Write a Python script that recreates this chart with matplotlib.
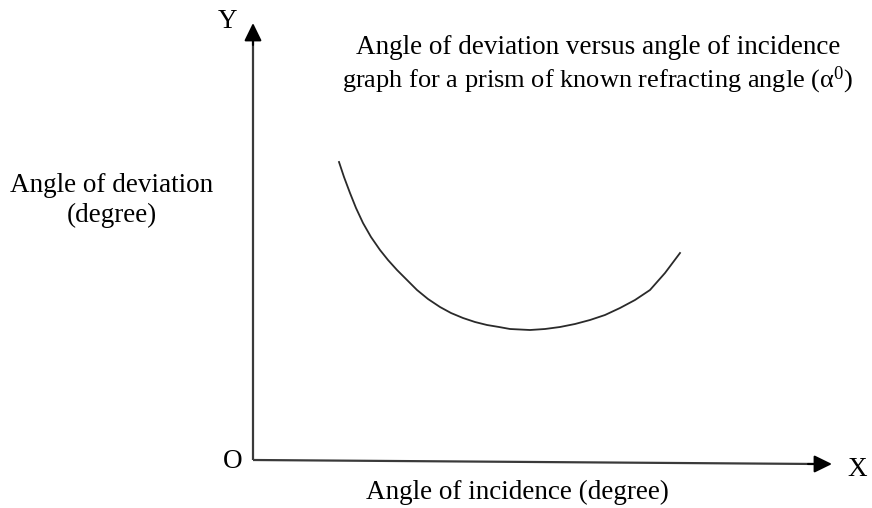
import numpy as np
import matplotlib
matplotlib.use("Agg")
import matplotlib.pyplot as plt

# curve (arbitrary units, origin at O)
incidence = [86, 91, 97, 103, 110, 118, 127, 135, 144, 154, 164, 175, 187, 198, 210,
             222, 234, 246, 257, 267, 277, 292, 307, 322, 337, 352, 367, 382, 397, 412, 427]
deviation = [298, 283, 267, 252, 237, 223, 210, 200, 190, 180, 170, 161, 153, 147, 142,
             138, 135, 133, 131, 130.5, 130, 131, 133, 136, 140, 145, 152, 160, 170, 187, 207]

title_lines = ["Angle of deviation versus angle of incidence",
               "graph for a prism of known refracting angle (\u03b1$^{0}$)"]
ylabel_lines = ["Angle of deviation", "(degree)"]
xlabel = "Angle of incidence (degree)"

plt.rcParams["font.family"] = ["Liberation Serif", "DejaVu Serif"]
plt.rcParams["mathtext.fontset"] = "custom"
plt.rcParams["mathtext.rm"] = "Liberation Serif"
plt.rcParams["mathtext.default"] = "regular"

fig = plt.figure(figsize=(8.72, 5.08), dpi=100)
ax = fig.add_axes([0, 0, 1, 1])
ax.set_xlim(-253, 619)
ax.set_ylim(-48, 460)
ax.axis("off")

axis_col = "#3a3a3a"
arrow = dict(arrowstyle="-|>,head_length=0.45,head_width=0.22", color="black",
             lw=1.5, mutation_scale=24, shrinkA=0, shrinkB=0)
ax.plot([0, 0], [0, 425], color=axis_col, lw=1.6, solid_capstyle="butt")
ax.plot([0, 565], [0, -4], color=axis_col, lw=1.6, solid_capstyle="butt")
ax.annotate("", xy=(0, 437), xytext=(0, 415), arrowprops=arrow)
ax.annotate("", xy=(579, -4), xytext=(555, -4), arrowprops=arrow)

ax.plot(incidence, deviation, color="#2a2a2a", lw=1.3)

fs = 19.5
ax.text(-26, 439, "Y", fontsize=fs, ha="center", va="center")
ax.text(-20, -1, "O", fontsize=fs, ha="center", va="center")
ax.text(604, -9, "X", fontsize=fs, ha="center", va="center")

ax.text(345, 412, title_lines[0], fontsize=fs, ha="center", va="center")
ax.text(344, 380, title_lines[1], fontsize=19, ha="center", va="center")
ax.text(-141, 274, ylabel_lines[0], fontsize=fs, ha="center", va="center")
ax.text(-141, 245, ylabel_lines[1], fontsize=fs, ha="center", va="center")
ax.text(264, -32, xlabel, fontsize=fs, ha="center", va="center")

fig.savefig("out.png", dpi=100)
